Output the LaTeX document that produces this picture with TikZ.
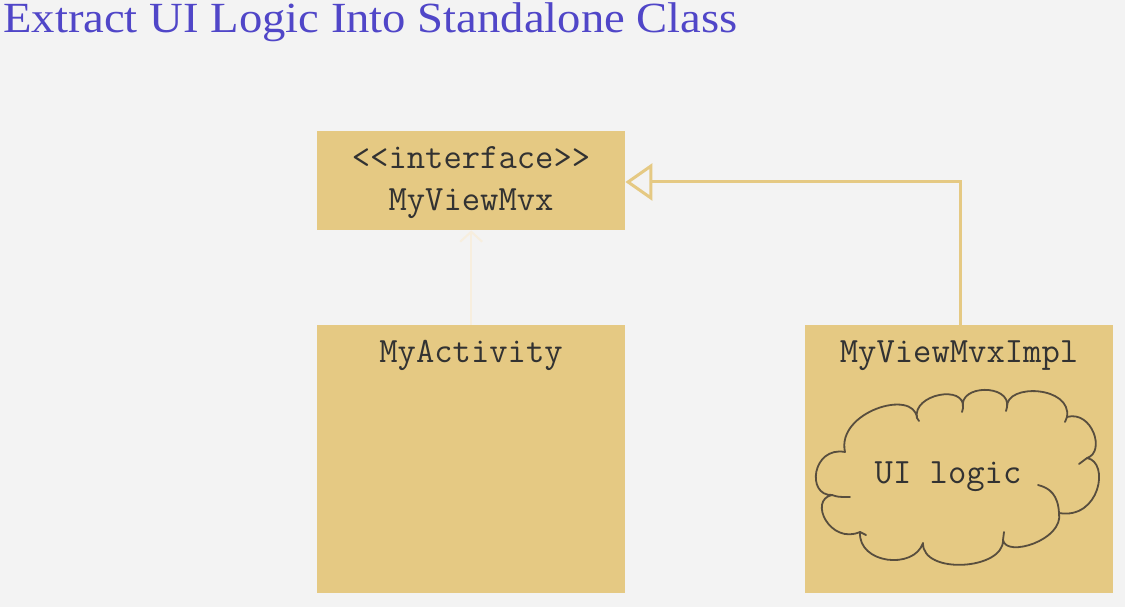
\documentclass[tikz,border=0pt]{standalone}
\usepackage{fontspec}
\setmainfont{Liberation Serif}
\usetikzlibrary{arrows.meta}
\definecolor{bgc}{RGB}{243,243,243}
\definecolor{boxc}{RGB}{229,201,131}
\definecolor{titlec}{RGB}{80,70,200}
\definecolor{faintc}{RGB}{247,238,222}
\definecolor{cloudc}{RGB}{88,78,62}
\definecolor{monoc}{RGB}{50,50,50}
\tikzset{
  umlbox/.style={draw=none, fill=boxc, rectangle, inner sep=0pt},
  mono/.style={font=\ttfamily\fontsize{35.6}{40}\selectfont, text=monoc, inner sep=0pt, anchor=base},
  realize/.style={draw=boxc, line width=3pt, -{Triangle[open, length=27pt, width=37pt, line width=3pt]}},
  depend/.style={draw=faintc, line width=2pt, -{Straight Barb[length=10pt, width=22pt, line width=2pt]}},
  cloudline/.style={draw=cloudc, line width=1.8pt, line join=round, line cap=round},
}
\begin{document}
\begin{tikzpicture}[x=1pt,y=-1pt]
\fill[bgc] (0,0) rectangle (1125,607);
\useasboundingbox (0,0) rectangle (1125,607);
\node[anchor=base west, inner sep=0pt, text=titlec, xscale=1.085, font=\fontsize{43}{50}\selectfont] (title) at (3,33) {Extract UI Logic Into Standalone Class};
\node[umlbox, minimum width=308pt, minimum height=99pt, anchor=north west] (iface) at (317,131) {};
\node[umlbox, minimum width=308pt, minimum height=268pt, anchor=north west] (act) at (317,325) {};
\node[umlbox, minimum width=308pt, minimum height=268pt, anchor=north west] (impl) at (805,325) {};
\node[mono] (t1) at (471,168) {<<interface>>};
\node[mono] (t2) at (471,210) {MyViewMvx};
\node[mono] (t3) at (471,362) {MyActivity};
\node[mono] (t4) at (959,362) {MyViewMvxImpl};
% cloud
\draw[cloudline]
  (845,452) .. controls (836,412) and (914,388) .. (917,418)
            .. controls (912,394) and (966,384) .. (963,408)
            .. controls (958,384) and (1011,384) .. (1007,407)
            .. controls (1006,383) and (1072,386) .. (1067,417)
            .. controls (1092,410) and (1106,452) .. (1087,458)
            .. controls (1110,462) and (1100,520) .. (1059,513)
            .. controls (1064,540) and (1006,558) .. (1003,540)
            .. controls (1004,570) and (922,575) .. (923,543)
            .. controls (914,570) and (858,564) .. (860,532)
            .. controls (830,545) and (808,500) .. (832,495)
            .. controls (806,496) and (812,446) .. (845,452) -- cycle;
\draw[cloudline] (832,495) .. controls (838,497) .. (850,497);
\draw[cloudline] (1059,513) .. controls (1058,495) and (1050,488) .. (1038,485);
\draw[cloudline] (1087,458) -- (1079,464);
\draw[cloudline] (1067,417) -- (1065,422);
\draw[cloudline] (1007,407) -- (1006,411);
\draw[cloudline] (963,408) -- (962,412);
\draw[cloudline] (917,418) -- (919,421);
\draw[cloudline] (1003,540) -- (1004,532);
\draw[cloudline] (860,532) -- (866,535);
\node[mono] (t5) at (948,483) {UI logic};
\coordinate (bend) at (960,182);
\draw[realize] (impl.north -| bend) -- (bend) -- (iface.east |- bend);
\draw[depend] (act.north) -- (iface.south -| act.north);
\end{tikzpicture}
\end{document}
